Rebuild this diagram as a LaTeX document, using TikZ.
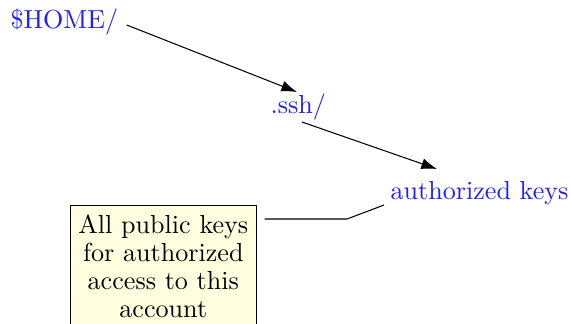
\documentclass[tikz,border=0pt]{standalone}
\usetikzlibrary{arrows.meta,calc}
\definecolor{notefill}{RGB}{255,255,224}
\definecolor{pathblue}{RGB}{30,30,255}
\begin{document}
\begin{tikzpicture}[x=0.383pt,y=-0.383pt,
  pathlabel/.style={text=pathblue,inner sep=0pt,anchor=base west},
  notebox/.style={draw=black,fill=notefill,align=center,inner xsep=3pt,inner ysep=3.5pt,anchor=north west,line width=0.4pt,font=\fontsize{10}{10.8}\selectfont},
  arr/.style={-{Latex[length=6pt,width=4.2pt]},line width=0.4pt},
  leader/.style={line width=0.4pt}]
\useasboundingbox (0,0) rectangle (571,323);
\node[pathlabel] (home) at (10,28) {\$HOME/};
\node[pathlabel] (ssh) at (270,113) {.ssh/};
\node[pathlabel] (auth) at (390,199) {authorized keys};
\node[notebox] (note) at (70,205) {All public keys\\for authorized\\access to this\\account};
\coordinate (bend) at (347,219);
\draw[arr] ($(home.base east)+(8,-3)$) -- ($(ssh.base west)+(27,-21)$);
\draw[arr] ($(ssh.base west)+(32,9)$) -- ($(auth.base west)+(47,-30)$);
\draw[leader] ($(auth.base west)+(-6,6)$) -- (bend) -- ($(note.north east)+(8,14)$);
\end{tikzpicture}
\end{document}
